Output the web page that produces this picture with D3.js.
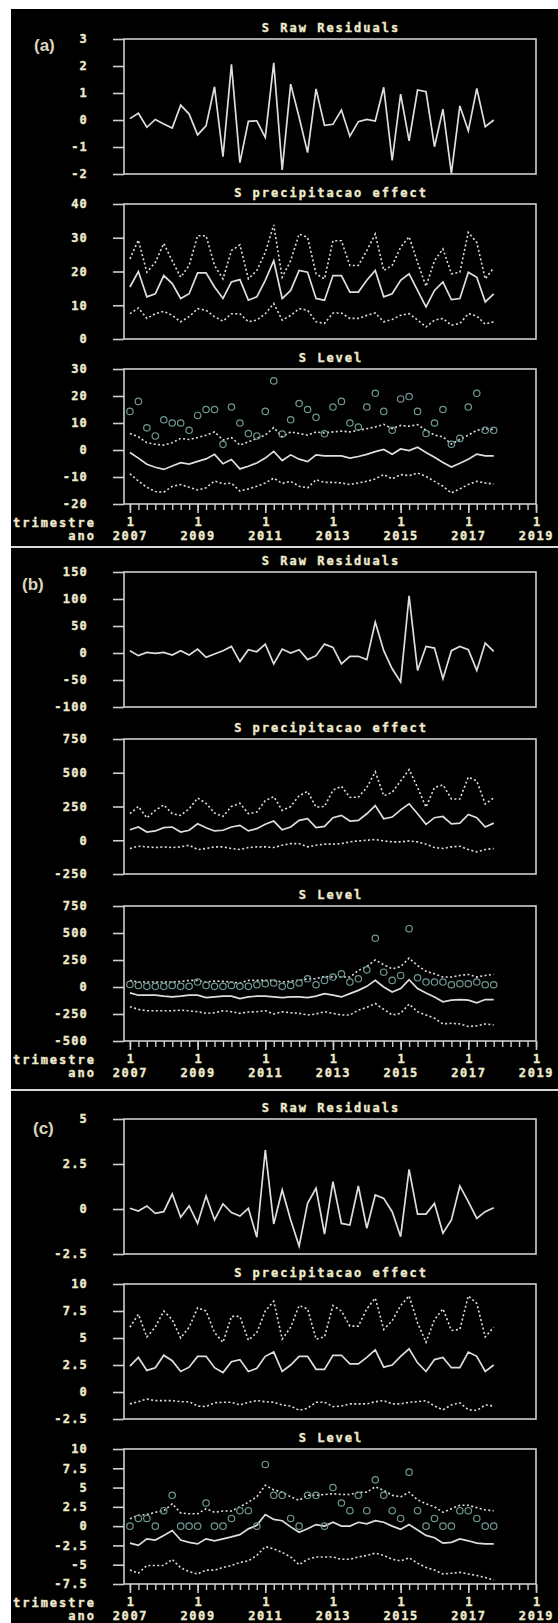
<!DOCTYPE html>
<html>
<head>
<meta charset="utf-8">
<script src="https://cdn.jsdelivr.net/npm/d3@7/dist/d3.min.js"></script>
<style>
body { margin: 0; background: #fff; }
svg text { font-family: "DejaVu Sans Mono", monospace; font-weight: bold; }
</style>
</head>
<body>
<svg id="chart" width="558" height="1623"></svg>
<script>
// quarters 2007Q1 .. 2017Q4 (index 0..43), axis runs to 2019Q1 (index 48)
const nQuarters = 44;
const yearLabels = ['2007', '2009', '2011', '2013', '2015', '2017', '2019'];
const titles = ['S Raw Residuals', 'S precipitacao effect', 'S Level'];

// ---- panel (a)
const residA = [0.05,0.25,-0.27,0.02,-0.15,-0.3,0.55,0.22,-0.55,-0.22,1.23,-1.36,2.06,-1.58,-0.05,-0.03,-0.64,2.12,-1.85,1.33,0.1,-1.21,1.15,-0.2,-0.16,0.37,-0.6,-0.06,0.02,-0.04,1.21,-1.5,0.96,-0.77,1.11,1.05,-0.99,0.4,-1.98,0.52,-0.4,1.17,-0.25,0.0];
const precA_fit = [15.4,20,12.5,13.4,18.8,16.4,12,13.4,19.6,19.6,15.4,12,16.9,17.6,11.5,12.5,17.4,23.2,12,14.4,20.3,19.8,12,11.5,18.8,18.8,13.9,13.9,17.4,20.3,12.5,13.4,17.4,19.3,14.4,9.5,14.4,16.9,11.7,12,19.8,18.3,11,13.4];
const precA_hi = [23.7,29.3,19.8,22.7,28.3,23.2,18.3,21.8,30.6,30.6,21.8,17.8,26.2,27.9,17.8,20.3,25.7,33.8,18.3,23.2,31.1,30.1,19.3,17.8,29.1,29.1,21.8,21.8,26.2,31.1,20.3,21.8,27.2,30.3,22.7,15.6,23.2,26.7,19.3,19.8,31.6,28.6,17.8,21.1];
const precA_lo = [7.5,9.2,6.1,7.5,8.2,7,5.1,6.6,9,8.5,6.6,5.3,7.5,7.5,5.1,5.6,7.5,10.5,5.6,7,9,8.5,5.1,4.6,7.7,7.7,6.1,6.1,7,7.7,5.1,5.8,7,7.5,5.6,3.6,5.6,6.1,4.1,4.6,7.5,6.8,4.4,5.1];
const levelA_obs = [14.3,18,8.2,5.2,11.2,10,10,7.3,12.8,15,15,2.1,15.9,10,6.1,5.2,14.3,25.6,5.9,11.2,17.2,15,12.1,6,15.9,18,10,8.5,15.9,21,14.3,7.3,18.9,19.8,14.3,6.1,10,15,2.1,4.3,15.9,21,7.3,7.3];
const levelA_fit = [-0.9,-3,-5.3,-6.4,-7.2,-5.9,-4.7,-5.2,-4.2,-3.3,-1.6,-5.1,-3.5,-7,-6,-4.8,-3,-0.5,-3.9,-1.8,-3.4,-4.3,-1.8,-2.2,-2.2,-2.2,-3,-2.4,-1.6,-0.6,0.2,-1.6,0.4,-0.2,1,-0.9,-2.7,-4.6,-6.3,-4.9,-3.4,-1.5,-2.2,-2.2];
const levelA_hi = [6.1,4.9,2.7,2.1,1.8,2.7,4.3,3.9,4.6,5.5,6.7,3.7,4.6,1.8,3,4.3,5.5,8.3,4.9,6.7,6.1,5.5,6.7,6.3,6.7,7,6.7,7.3,7.9,8.5,9.5,7.9,9.1,8.8,9.4,7.3,5.5,4.9,2.2,3.9,5.5,7.3,7.9,7.6];
const levelA_lo = [-8.8,-11.5,-13.8,-15.4,-15.6,-13.5,-12.8,-13.8,-14.8,-14,-11.5,-12.5,-12.3,-15.2,-14.4,-13.4,-12.2,-10.4,-12.4,-11.6,-13.4,-14,-11,-12,-12,-12.2,-12.8,-12.2,-11.6,-10.7,-9.1,-10.7,-9.1,-9.5,-8.5,-9.8,-11.6,-13.4,-15.9,-14.4,-12.8,-11.6,-12.2,-12.6];
const ticksA = [[-2,-1,0,1,2,3], [0,10,20,30,40], [-20,-10,0,10,20,30]];

// ---- panel (b)
const residB = [4.3,-4.9,1.2,-0.6,1.2,-3.7,4.3,-3.7,7.3,-7.9,-1.8,4.3,12.2,-15.9,6.1,2.4,16.5,-20.1,7.3,0,6.1,-12.2,-4.9,16.5,10.4,-20.1,-6.1,-6.1,-12.2,57.3,4.3,-29.3,-53.7,106,-32.3,12.2,9.1,-47.6,4.3,12.2,6.1,-32.3,18.3,3];
const precB_fit = [78,98,61,69,93,98,61,74,122,93,69,74,98,110,69,86,118,142,78,98,147,159,93,103,167,184,142,147,196,257,159,172,225,270,196,118,167,176,122,127,191,167,98,127];
const precB_hi = [197,250,165,221,262,197,184,233,313,274,201,177,250,274,197,209,294,323,221,250,330,362,245,250,371,400,318,318,391,507,330,354,439,524,391,245,391,410,306,306,468,439,269,313];
const precB_lo = [-61,-44,-49,-54,-49,-54,-49,-37,-69,-61,-49,-49,-61,-69,-54,-49,-49,-54,-37,-25,-25,-49,-37,-29,-29,-25,-12,-5,0,5,-5,-12,-12,-5,-12,-29,-54,-61,-49,-44,-69,-86,-69,-61];
const levelB_obs = [24,15,6,6,6,15,6,6,46,15,6,6,15,6,6,21,30,37,6,15,37,76,21,61,92,122,46,76,159,451,137,61,107,540,85,46,46,46,21,30,30,46,21,21];
const levelB_fit = [-55,-76,-76,-76,-85,-92,-85,-76,-76,-98,-92,-85,-85,-107,-92,-85,-85,-92,-98,-92,-92,-98,-85,-61,-76,-92,-61,-31,6,61,0,-46,-15,67,-15,-55,-92,-137,-122,-116,-122,-146,-116,-116];
const levelB_hi = [61,46,46,46,46,46,52,61,61,46,55,52,46,37,61,61,61,61,46,55,61,76,76,98,92,92,92,153,189,250,207,168,189,268,198,146,122,92,92,107,116,92,107,116];
const levelB_lo = [-183,-207,-220,-220,-220,-220,-214,-220,-229,-244,-238,-220,-229,-244,-232,-229,-220,-250,-229,-238,-244,-259,-250,-229,-244,-259,-259,-214,-189,-153,-207,-259,-244,-159,-229,-259,-290,-342,-336,-342,-366,-360,-342,-351];
const ticksB = [[-100,-50,0,50,100,150], [-250,0,250,500,750], [-500,-250,0,250,500,750]];

// ---- panel (c)
const residC = [0.04,-0.11,0.17,-0.24,-0.15,0.83,-0.46,0.17,-0.8,0.72,-0.61,0.28,-0.2,-0.39,0.04,-1.57,3.28,-0.83,1.06,-0.61,-2.06,0.31,1.15,-1.39,1.52,-0.8,-0.89,1.28,-1.07,0.78,0.59,-0.15,-1.54,2.2,-0.28,-0.28,0.31,-1.35,-0.61,1.28,0.41,-0.52,-0.15,0.07];
const precC_fit = [2.4,3.2,2,2.25,3.4,2.9,1.9,2.3,3.3,3.3,2.25,1.8,2.8,3,1.9,2.2,3.3,3.7,1.9,2.5,3.3,3.3,2.1,2.1,3.4,3.4,2.6,2.6,3.2,3.9,2.3,2.5,3.3,4,2.7,1.9,3,3.2,2.25,2.25,3.7,3.3,1.9,2.5];
const precC_hi = [6,7.2,5.1,6,7.5,6.7,5,6,7.8,7.5,5.5,4.6,7,7,4.8,5.5,7.5,8.4,4.9,6,8,7.7,4.9,5.1,8,7.5,6.1,6.1,7.7,8.7,5.8,6.6,8,8.9,6.4,4.6,6.7,7.7,5.7,5.8,8.9,8.2,5.1,6];
const precC_lo = [-1.1,-0.9,-0.65,-0.8,-0.8,-0.8,-0.9,-0.9,-1.3,-1.35,-1,-0.95,-0.95,-1.2,-0.95,-0.8,-0.9,-0.95,-1.2,-1.3,-1.7,-1.5,-0.95,-0.95,-1.35,-1.3,-1.1,-1.1,-1.1,-0.9,-0.8,-1.1,-1.1,-0.95,-0.9,-0.8,-1.3,-1.65,-1.2,-1,-1.65,-1.7,-1.2,-1.3];
const levelC_obs = [0,1,1,0,2,4,0,0,0,3,0,0,1,2,2,0,8,4,4,1,0,4,4,0,5,3,2,4,2,6,4,2,1,7,2,0,1,0,0,2,2,1,0,0];
const levelC_fit = [-2.2,-2.5,-1.65,-1.8,-1.2,-0.57,-1.8,-2.1,-2.3,-1.65,-1.9,-1.65,-1.4,-1.1,-0.35,0.1,1.5,0.87,0.7,-0.1,-0.8,-0.35,0.2,0,0.5,0,0,0.5,0.3,0.7,0.5,0,-0.4,0.2,-0.5,-1.2,-1.5,-2.2,-2.1,-1.65,-1.9,-2.2,-2.3,-2.3];
const levelC_hi = [0.96,1.4,1.5,1.8,2,2.9,1.7,1.6,1.6,2.26,1.8,1.96,1.96,2.5,3.1,3.8,5.3,4.7,4.4,3.8,3.35,4,4,4.1,4.2,4.1,4.1,4.4,4.4,5.1,4.65,4,3.8,4.4,3.4,2.9,2.5,1.8,2.26,2.7,2.7,2.4,2.1,2];
const levelC_lo = [-5.7,-6.1,-5.1,-5.1,-5.1,-4.3,-5.4,-5.9,-6.2,-5.7,-5.7,-5.35,-5.1,-4.7,-4.5,-3.8,-2.65,-2.96,-3.4,-4,-5,-4.3,-4,-4,-4,-4.3,-4.3,-4,-3.8,-3.5,-3.8,-4.3,-4.5,-4.1,-4.8,-5.35,-5.7,-6.2,-6.1,-6,-6.2,-6.4,-6.65,-7];
const ticksC = [[-2.5,0,2.5,5], [-2.5,0,2.5,5,7.5,10], [-7.5,-5,-2.5,0,2.5,5,7.5,10]];

const panels = [
	{ tag: '(a)', tagX: 34, tagY: 51, tops: [39, 204, 369], ticks: ticksA,
		resid: residA, prec: [precA_fit, precA_hi, precA_lo], level: [levelA_fit, levelA_hi, levelA_lo], obs: levelA_obs },
	{ tag: '(b)', tagX: 22, tagY: 590, tops: [572, 739, 906], ticks: ticksB,
		resid: residB, prec: [precB_fit, precB_hi, precB_lo], level: [levelB_fit, levelB_hi, levelB_lo], obs: levelB_obs },
	{ tag: '(c)', tagX: 33, tagY: 1134, tops: [1119, 1284, 1449], ticks: ticksC,
		resid: residC, prec: [precC_fit, precC_hi, precC_lo], level: [levelC_fit, levelC_hi, levelC_lo], obs: levelC_obs }
];

const textCol = '#efeacd';
const lineCol = '#dedede';
const frameCol = '#cfcfcf';
const circleCol = '#6f9893';
const plotH = 135;
const left = 124, right = 536;

const svg = d3.select('#chart');
svg.append('rect').attr('x', 11).attr('y', 9).attr('width', 547).attr('height', 1614).attr('fill', '#000');
// separators between stacked screenshots
[547, 1090].forEach(y => {
	svg.append('line').attr('x1', 11).attr('x2', 558).attr('y1', y).attr('y2', y)
		.attr('stroke', '#d8d8d8').attr('stroke-width', 2);
});

const x = d3.scaleLinear().domain([-0.7, 48]).range([left, right]);
const idx = d3.range(nQuarters);

// heavy bitmap-like lettering
function sasText(sel, spacing) {
	sel.attr('fill', textCol).attr('stroke', textCol).attr('stroke-width', 0.35)
		.style('font-family', '"DejaVu Sans Mono", monospace')
		.style('font-size', '12px').style('letter-spacing', spacing + 'px');
}

function drawPlot(top, ticks, title, lines, obs) {
	const y = d3.scaleLinear().domain(d3.extent(ticks)).range([top + plotH, top]);
	const g = svg.append('g');

	g.append('text').attr('x', (left + right) / 2 + 1).attr('y', top - 7)
		.attr('text-anchor', 'middle').text(title).call(sasText, 2);

	const ax = g.append('g').attr('transform', `translate(${left},0)`)
		.call(d3.axisLeft(y).tickValues(ticks).tickSize(11).tickPadding(25).tickFormat(d => String(d)));
	ax.select('.domain').remove();
	ax.selectAll('line').attr('stroke', frameCol).attr('stroke-width', 1.6);
	ax.selectAll('text').call(sasText, 1.2);

	g.append('rect').attr('x', left).attr('y', top).attr('width', right - left).attr('height', plotH)
		.attr('fill', 'none').attr('stroke', frameCol).attr('stroke-width', 1.6);

	const line = d3.line().x(i => x(i));
	lines.forEach((vals, k) => {
		g.append('path').datum(idx)
			.attr('d', line.y(i => y(vals[i])))
			.attr('fill', 'none').attr('stroke', lineCol)
			.attr('stroke-width', k === 0 ? 1.7 : 1.6)
			.attr('stroke-dasharray', k === 0 ? null : '2,2.4');
	});

	if (obs) {
		g.selectAll('circle.obs').data(idx).enter().append('circle')
			.attr('cx', i => x(i)).attr('cy', i => y(obs[i])).attr('r', 3.2)
			.attr('fill', 'none').attr('stroke', circleCol).attr('stroke-width', 1.2);
	}
	return y;
}

panels.forEach(p => {
	svg.append('text').attr('x', p.tagX).attr('y', p.tagY).attr('fill', '#ddd5bc')
		.style('font-family', '"Liberation Sans", Arial, sans-serif').style('font-weight', 'bold')
		.style('font-size', '17px').text(p.tag);

	drawPlot(p.tops[0], p.ticks[0], titles[0], [p.resid]);
	drawPlot(p.tops[1], p.ticks[1], titles[1], p.prec);
	drawPlot(p.tops[2], p.ticks[2], titles[2], p.level, p.obs);

	const bottom = p.tops[2] + plotH;
	const minor = svg.append('g').attr('transform', `translate(0,${bottom})`)
		.call(d3.axisBottom(x).tickValues(d3.range(0, 49)).tickSize(6).tickFormat(''));
	minor.select('.domain').remove();
	minor.selectAll('line').attr('stroke', frameCol).attr('stroke-width', 1.4);

	const major = svg.append('g').attr('transform', `translate(0,${bottom})`)
		.call(d3.axisBottom(x).tickValues(d3.range(0, 49, 8)).tickSize(9).tickPadding(4).tickFormat(() => '1'));
	major.select('.domain').remove();
	major.selectAll('line').attr('stroke', frameCol).attr('stroke-width', 1.6);
	major.selectAll('text').call(sasText, 0);
	major.selectAll('.tick').append('text')
		.attr('y', 36).attr('text-anchor', 'middle')
		.text((d, i) => yearLabels[i]).call(sasText, 1.6);

	svg.append('text').attr('x', 96).attr('y', bottom + 23).attr('text-anchor', 'end')
		.text('trimestre').call(sasText, 2);
	svg.append('text').attr('x', 96).attr('y', bottom + 36).attr('text-anchor', 'end')
		.text('ano').call(sasText, 2);
});
</script>
</body>
</html>
